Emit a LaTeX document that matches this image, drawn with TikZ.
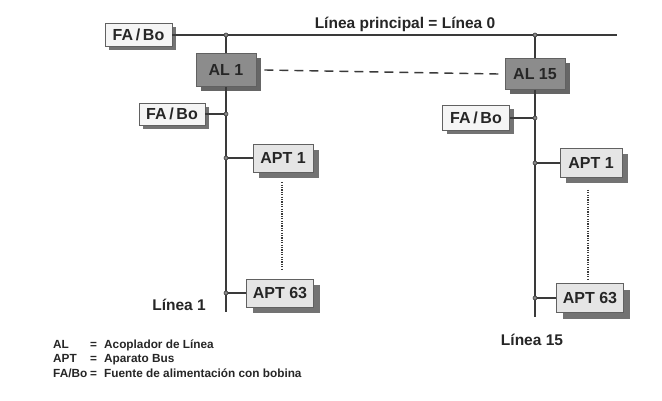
\documentclass[tikz,border=0pt]{standalone}
\usepackage{fontspec}
\setmainfont{Liberation Sans}
\usetikzlibrary{shadows,calc}
\definecolor{linec}{HTML}{3A3A3A}
\tikzset{
  x=1pt,y=-1pt,
  bus/.style={draw=linec,line width=1.4pt},
  jn/.style={circle,draw=linec,fill=linec!60,inner sep=0pt,minimum size=4pt,line width=0.6pt},
  boxbase/.style={draw=linec!80,line width=0.6pt,font=\bfseries\fontsize{16}{16}\selectfont,text=black!85,inner sep=0pt},
  fabox/.style={boxbase,fill=white!96!black,drop shadow={shadow xshift=4pt,shadow yshift=-4pt,fill=black!55,opacity=1}},
  albox/.style={boxbase,fill=black!45,drop shadow={shadow xshift=5pt,shadow yshift=-5pt,fill=black!60,opacity=1}},
  aptbox/.style={boxbase,fill=black!10,drop shadow={shadow xshift=6pt,shadow yshift=-6pt,fill=black!55,opacity=1}},
  lbl/.style={font=\bfseries\fontsize{15.5}{15.5}\selectfont,text=black!85,inner sep=0pt},
  leg/.style={font=\bfseries\fontsize{11.8}{11.8}\selectfont,text=black!85,inner sep=0pt,anchor=base west},
  dotl/.style={linec,line width=1.2pt,dash pattern=on 1.2pt off 1.2pt}
}
\begin{document}
\begin{tikzpicture}
\useasboundingbox[fill=white] (0,0) rectangle (662,401);
% nodes
\node[fabox,minimum width=67,minimum height=23] (fa0) at (138.5,35) {FA\,/\,Bo};
\node[albox,minimum width=60,minimum height=33] (al1) at (226,70) {AL 1};
\node[albox,minimum width=60,minimum height=31] (al15) at (535,74) {AL 15};
\node[fabox,minimum width=66,minimum height=22] (fa1) at (172,114) {FA\,/\,Bo};
\node[fabox,minimum width=67,minimum height=25] (fa2) at (476,118) {FA\,/\,Bo};
\node[aptbox,minimum width=60,minimum height=28] (aptla) at (283,158) {APT 1};
\node[aptbox,minimum width=67,minimum height=28] (aptlb) at (280,293) {APT 63};
\node[aptbox,minimum width=62,minimum height=29] (aptra) at (591,163) {APT 1};
\node[aptbox,minimum width=67,minimum height=29] (aptrb) at (590,298) {APT 63};
\node[lbl] (title) at (405,24) {Línea principal = Línea 0};
\node[lbl] (l1) at (179,305) {Línea 1};
\node[lbl] (l15) at (532,340) {Línea 15};
% coordinates
\coordinate (mainend) at (617,35);
\coordinate (j0) at (226,35);
\coordinate (j15) at (535,35);
\coordinate (jfa1) at (226,114);
\coordinate (jfa2) at (535,118);
\coordinate (jla) at (226,158);
\coordinate (jlb) at (226,293);
\coordinate (jra) at (535,163);
\coordinate (jrb) at (535,298);
\coordinate (endl) at (226,312);
\coordinate (endr) at (535,317);
% lines
\draw[bus] (fa0.east) -- (mainend);
\draw[bus] (j0) -- (al1.north);
\draw[bus] (al1.south) -- (endl);
\draw[bus] (j15) -- (al15.north);
\draw[bus] (al15.south) -- (endr);
\draw[bus] (fa1.east) -- (jfa1);
\draw[bus] (fa2.east) -- (jfa2);
\draw[bus] (jla) -- (aptla.west);
\draw[bus] (jlb) -- (aptlb.west);
\draw[bus] (jra) -- (aptra.west);
\draw[bus] (jrb) -- (aptrb.west);
\draw[linec,line width=1.4pt,dash pattern=on 9pt off 6pt] ($(al1.east)+(8,0)$) -- ($(al15.west)+(-6,0)$);
\draw[dotl] ($(aptla.south)+(-1,10)$) -- ($(aptlb.north)+(2,-8)$);
\draw[dotl] ($(aptra.south)+(-3,12)$) -- ($(aptrb.north)+(-2,-4)$);
\foreach \j in {j0,j15,jfa1,jfa2,jla,jlb,jra,jrb} \node[jn] at (\j) {};
% legend
\node[leg] (la) at (53,348) {AL};
\node[leg] (lb) at (53,362) {APT};
\node[leg] (lc) at (53,377) {FA/Bo};
\node[leg] (ea) at (90,348) {=};
\node[leg] (eb) at (90,362) {=};
\node[leg] (ec) at (90,377) {=};
\node[leg] (ta) at (104,348) {Acoplador de Línea};
\node[leg] (tb) at (104,362) {Aparato Bus};
\node[leg] (tc) at (104,377) {Fuente de alimentación con bobina};
\end{tikzpicture}
\end{document}
